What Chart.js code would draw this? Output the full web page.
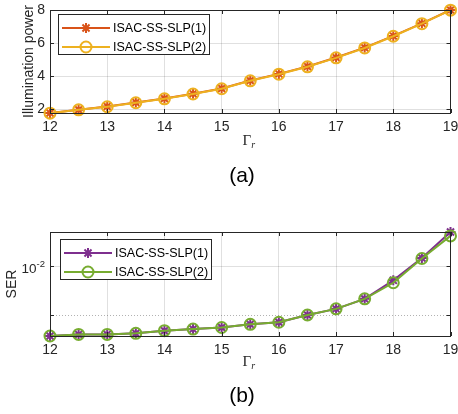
<!DOCTYPE html>
<html>
<head>
<meta charset="utf-8">
<script src="https://cdn.jsdelivr.net/npm/chart.js@4.4.1/dist/chart.umd.min.js"></script>
<style>
  body { margin: 0; background: #fff; width: 458px; height: 414px; overflow: hidden; position: relative;
         font-family: "Liberation Sans", Arial, sans-serif; }
  canvas { position: absolute; left: 0; }
  #top { top: 0; }
  #bottom { top: 195px; }
  .cap { position: absolute; width: 60px; text-align: center; font-size: 21px; color: #000; }
</style>
</head>
<body>
<canvas id="top" width="458" height="195"></canvas>
<canvas id="bottom" width="458" height="219"></canvas>
<div class="cap" style="left:212px; top:163px">(a)</div>
<div class="cap" style="left:212px; top:383px">(b)</div>
<script>
// values
const gamma = [12, 12.5, 13, 13.5, 14, 14.5, 15, 15.5, 16, 16.5, 17, 17.5, 18, 18.5, 19];
const seriesNames = ['ISAC-SS-SLP(1)', 'ISAC-SS-SLP(2)'];

const powerSLP1 = [1.76, 1.96, 2.16, 2.40, 2.64, 2.93, 3.25, 3.73, 4.13, 4.58, 5.12, 5.72, 6.43, 7.19, 8.00];
const powerSLP2 = [1.75, 1.95, 2.14, 2.38, 2.62, 2.91, 3.23, 3.71, 4.11, 4.56, 5.10, 5.70, 6.41, 7.17, 7.99];

const serSLP1 = [0.00860, 0.00863, 0.00863, 0.00865, 0.00870, 0.00873, 0.00876, 0.00882, 0.00886,
                 0.00900, 0.00912, 0.00932, 0.00970, 0.01018, 0.01077];
const serSLP2 = [0.00860, 0.00863, 0.00863, 0.00865, 0.00870, 0.00873, 0.00876, 0.00882, 0.00886,
                 0.00900, 0.00912, 0.00932, 0.00965, 0.01017, 0.01068];

const xTicks = [12, 13, 14, 15, 16, 17, 18, 19];
const powerTicks = [2, 4, 6, 8];
const serTicks = [0.009, 0.01];   // 0.009 is the dotted minor line

const AX = '#262626';
const GRID = 'rgba(0,0,0,0.12)';

function pts(ys) {
  return gamma.map((g, i) => ({ x: g, y: ys[i] }));
}

function marker(ctx, style, x, y, r) {
  ctx.beginPath();
  if (style === 'circle') {
    ctx.arc(x, y, r, 0, Math.PI * 2);
  } else {
    const d = r * Math.SQRT1_2;
    ctx.moveTo(x - r, y); ctx.lineTo(x + r, y);
    ctx.moveTo(x, y - r); ctx.lineTo(x, y + r);
    ctx.moveTo(x - d, y - d); ctx.lineTo(x + d, y + d);
    ctx.moveTo(x - d, y + d); ctx.lineTo(x + d, y - d);
  }
  ctx.stroke();
}

// box, inward ticks, legend, axis titles - drawn the way the matlab figure looks
const decor = {
  id: 'decor',
  beforeDatasetsDraw(chart, args, o) {
    const { ctx, chartArea: a, scales: { y } } = chart;
    ctx.save();
    (o.minor || []).forEach(v => {
      const py = Math.round(y.getPixelForValue(v)) + 0.5;
      ctx.setLineDash([1, 2]);
      ctx.strokeStyle = 'rgba(0,0,0,0.3)';
      ctx.lineWidth = 1;
      ctx.beginPath(); ctx.moveTo(a.left, py); ctx.lineTo(a.right, py); ctx.stroke();
    });
    ctx.restore();
  },
  afterDraw(chart, args, o) {
    const { ctx, chartArea: a, scales: { x, y } } = chart;
    ctx.save();
    ctx.strokeStyle = AX;
    ctx.lineWidth = 1;
    ctx.strokeRect(Math.round(a.left) + 0.5, Math.round(a.top) + 0.5,
                   Math.round(a.right - a.left) - 1, Math.round(a.bottom - a.top));
    // ticks pointing inward
    ctx.beginPath();
    xTicks.forEach(v => {
      const px = Math.round(x.getPixelForValue(v)) + 0.5;
      ctx.moveTo(px, a.bottom); ctx.lineTo(px, a.bottom - 4);
      ctx.moveTo(px, a.top); ctx.lineTo(px, a.top + 4);
    });
    o.yTicks.forEach(v => {
      const py = Math.round(y.getPixelForValue(v)) + 0.5;
      ctx.moveTo(a.left, py); ctx.lineTo(a.left + 4, py);
      ctx.moveTo(a.right, py); ctx.lineTo(a.right - 4, py);
    });
    ctx.stroke();

    // legend
    const L = o.legend;
    ctx.fillStyle = '#fff';
    ctx.fillRect(L.x, L.y, 151, 40);
    ctx.strokeRect(L.x + 0.5, L.y + 0.5, 151, 40);
    chart.data.datasets.forEach((ds, i) => {
      const ry = L.y + 14 + i * 19;
      ctx.strokeStyle = ds.borderColor;
      ctx.lineWidth = 2;
      ctx.beginPath(); ctx.moveTo(L.x + 4, ry); ctx.lineTo(L.x + 52, ry); ctx.stroke();
      marker(ctx, ds.pointStyle, L.x + 28, ry, ds.pointStyle === 'circle' ? 5.5 : 5);
      ctx.fillStyle = '#000';
      ctx.font = '12.5px "Liberation Sans", Arial, sans-serif';
      ctx.textAlign = 'left';
      ctx.textBaseline = 'middle';
      ctx.fillText(ds.label, L.x + 55, ry + 1);
    });

    // y title
    ctx.fillStyle = AX;
    ctx.save();
    ctx.translate(o.yTitleX, (a.top + a.bottom) / 2);
    ctx.rotate(-Math.PI / 2);
    ctx.font = '14px "Liberation Sans", Arial, sans-serif';
    ctx.textAlign = 'center';
    ctx.textBaseline = 'middle';
    ctx.fillText(o.yTitle, 0, 0);
    ctx.restore();

    // x title: Gamma_r
    const cx = (a.left + a.right) / 2, ty = o.xTitleY;
    ctx.textBaseline = 'alphabetic';
    ctx.textAlign = 'right';
    ctx.font = '15px "Liberation Serif", "DejaVu Serif", serif';
    ctx.fillText('Γ', cx + 1, ty + 5);
    ctx.textAlign = 'left';
    ctx.font = 'italic 10px "Liberation Serif", "DejaVu Serif", serif';
    ctx.fillText('r', cx + 1, ty + 8);

    // log tick label 10^-2
    if (o.logLabel) {
      const py = y.getPixelForValue(0.01);
      ctx.textAlign = 'right';
      ctx.textBaseline = 'middle';
      ctx.font = '9.5px "Liberation Sans", Arial, sans-serif';
      const supW = ctx.measureText('-2').width;
      ctx.fillText('-2', 45, py - 2);
      ctx.font = '13.5px "Liberation Sans", Arial, sans-serif';
      ctx.fillText('10', 45 - supW, py + 3);
    }
    ctx.restore();
  }
};

function lineSet(label, ys, color, style) {
  return {
    label: label,
    data: pts(ys),
    borderColor: color,
    backgroundColor: color,
    borderWidth: 2,
    pointStyle: style,
    pointRadius: style === 'circle' ? 5.5 : 5,
    pointBorderWidth: 2,
    pointBorderColor: color,
    pointBackgroundColor: 'rgba(0,0,0,0)',
    clip: false,
    order: style === 'circle' ? 0 : 1
  };
}

function xScale(height) {
  return {
    type: 'linear', min: 12, max: 19,
    afterBuildTicks: s => { s.ticks = xTicks.map(v => ({ value: v })); },
    afterFit: s => { s.height = height; s.paddingLeft = 0; s.paddingRight = 0; },
    ticks: { color: AX, font: { size: 14, family: '"Liberation Sans", Arial, sans-serif' }, padding: 6, maxRotation: 0 },
    grid: { color: GRID, drawTicks: false },
    border: { display: false }
  };
}

function yFit(s) {
  s.width = 50;
  s.paddingTop = 0;
  s.paddingBottom = 0;
}

new Chart(document.getElementById('top'), {
  type: 'line',
  data: {
    datasets: [
      lineSet(seriesNames[0], powerSLP1, '#D95319', 'star'),
      lineSet(seriesNames[1], powerSLP2, '#EDB120', 'circle')
    ]
  },
  options: {
    responsive: false, animation: false, devicePixelRatio: 1,
    layout: { padding: { top: 10, right: 7, left: 0, bottom: 0 } },
    scales: {
      x: xScale(195 - 113),
      y: {
        type: 'linear', min: 1.76, max: 8,
        afterBuildTicks: s => { s.ticks = powerTicks.map(v => ({ value: v })); },
        afterFit: yFit,
        ticks: { color: AX, font: { size: 14, family: '"Liberation Sans", Arial, sans-serif' }, padding: 5 },
        grid: { color: GRID, drawTicks: false },
        border: { display: false }
      }
    },
    plugins: {
      legend: { display: false }, tooltip: { enabled: false },
      decor: { yTicks: powerTicks, legend: { x: 58, y: 14 }, yTitle: 'Illumination power', yTitleX: 29, xTitleY: 140 }
    }
  },
  plugins: [decor]
});

new Chart(document.getElementById('bottom'), {
  type: 'line',
  data: {
    datasets: [
      lineSet(seriesNames[0], serSLP1, '#7E2F8E', 'star'),
      lineSet(seriesNames[1], serSLP2, '#77AC30', 'circle')
    ]
  },
  options: {
    responsive: false, animation: false, devicePixelRatio: 1,
    layout: { padding: { top: 37, right: 7, left: 0, bottom: 0 } },
    scales: {
      x: xScale(219 - 141),
      y: {
        type: 'logarithmic', min: 0.0086, max: 0.01077,
        afterBuildTicks: s => { s.ticks = serTicks.map(v => ({ value: v })); },
        afterFit: yFit,
        ticks: { callback: () => '', padding: 5 },
        grid: { color: c => (c.tick && c.tick.value === 0.01) ? GRID : 'rgba(0,0,0,0)', drawTicks: false },
        border: { display: false }
      }
    },
    plugins: {
      legend: { display: false }, tooltip: { enabled: false },
      decor: { yTicks: serTicks, minor: [0.009], logLabel: true, legend: { x: 60, y: 44 }, yTitle: 'SER', yTitleX: 12, xTitleY: 166 }
    }
  },
  plugins: [decor]
});
</script>
</body>
</html>
